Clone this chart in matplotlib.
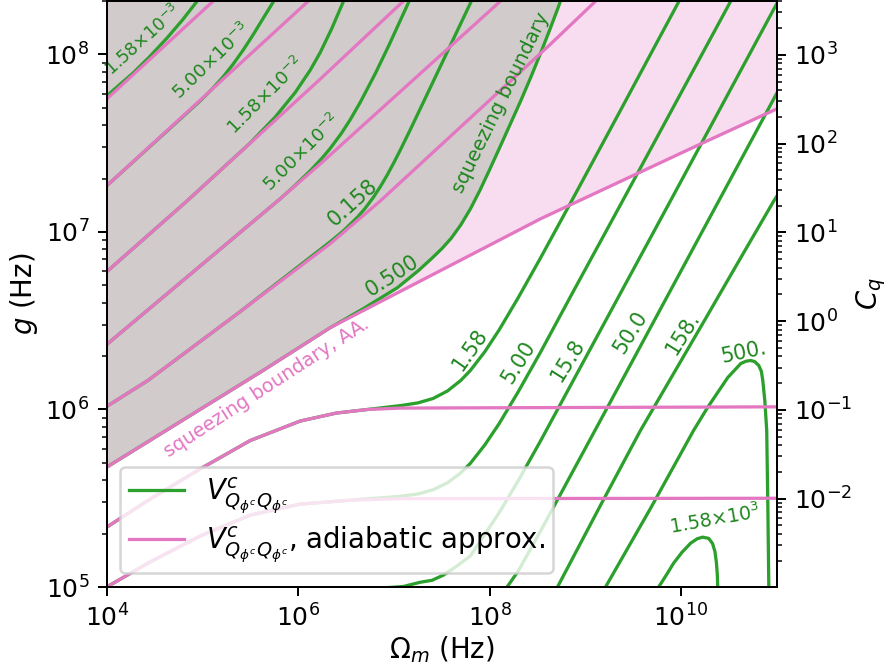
import numpy as np
import matplotlib
matplotlib.use("Agg")
import matplotlib.pyplot as plt
from matplotlib.ticker import FixedLocator, NullLocator, LogFormatterSciNotation

GREEN = "#2ca02c"
PINK = "#e377c2"
LABEL_GREEN = "#1e861e"
PINK_FILL = "#f8ddf0"
GRAY_FILL = "#d1cccb"

# all curves as log10(Omega_m / Hz), log10(g / Hz)

# squeezing boundary, adiabatic approx. (pink, V = 0.5)
aa_bound_x = [4.00, 5.635, 6.336, 7.486, 8.532, 10.206, 11.0]
aa_bound_y = [5.675, 6.220, 6.461, 6.782, 7.074, 7.496, 7.693]

# squeezing boundary (green, V = 0.5)
bound_x = [4.00, 5.635, 6.336, 6.681, 7.037, 7.256, 7.40, 7.50, 7.60, 7.70, 7.80, 7.90,
           8.00, 8.10, 8.323, 8.43, 8.532, 8.63, 8.721, 8.74]
bound_y = [5.675, 6.220, 6.461, 6.568, 6.686, 6.782, 6.853, 6.905, 6.965, 7.04, 7.13, 7.235,
           7.35, 7.468, 7.735, 7.87, 8.005, 8.14, 8.27, 8.30]

# full contours inside the squeezed region
g_a_x = [4.00, 4.14, 4.275, 4.45, 4.631, 4.79, 4.945]
g_a_y = [7.766, 7.832, 7.895, 7.988, 8.093, 8.193, 8.300]
g_b_x = [4.00, 4.976, 5.10, 5.22, 5.321, 5.43, 5.53, 5.64, 5.745]
g_b_y = [7.260, 7.738, 7.804, 7.876, 7.945, 8.028, 8.111, 8.208, 8.300]
g_c_x = [4.00, 4.840, 5.499, 5.76, 5.97, 6.127, 6.231, 6.35, 6.461, 6.475]
g_c_y = [6.776, 7.175, 7.501, 7.647, 7.786, 7.912, 8.011, 8.144, 8.283, 8.300]
g_d_x = [4.00, 5.813, 5.95, 6.127, 6.25, 6.336, 6.45, 6.545, 6.65, 6.807, 6.95, 7.16]
g_d_y = [6.366, 7.187, 7.253, 7.345, 7.416, 7.471, 7.554, 7.633, 7.731, 7.893, 8.053, 8.300]
g_e_x = [4.00, 4.432, 5.394, 6.336, 6.47, 6.618, 6.70, 6.786, 6.86, 6.932, 7.00, 7.068,
         7.17, 7.277, 7.81]
g_e_y = [6.017, 6.164, 6.551, 6.945, 7.005, 7.082, 7.133, 7.195, 7.256, 7.322, 7.39, 7.462,
         7.574, 7.695, 8.300]

# adiabatic contours inside the squeezed region
p_a_x = [4.00, 5.112]
p_a_y = [7.749, 8.300]
p_b_x = [4.00, 6.106]
p_b_y = [7.260, 8.300]
p_c_x = [4.00, 4.840, 6.231, 7.099]
p_c_y = [6.776, 7.175, 7.861, 8.300]
p_d_x = [4.00, 5.813, 6.231, 8.114]
p_d_y = [6.366, 7.187, 7.383, 8.300]
p_e_x = [4.00, 4.432, 5.394, 6.336, 6.859, 8.637, 9.108]
p_e_y = [6.017, 6.164, 6.551, 6.934, 7.175, 8.058, 8.300]

# adiabatic contours 1.58 and 5.00 (flatten out)
p_158_x = [4.00, 4.453, 4.976, 5.499, 6.022, 6.4, 6.723, 7.068, 11.0]
p_158_y = [5.337, 5.495, 5.665, 5.825, 5.935, 5.98, 6.0, 6.008, 6.015]
p_500_x = [4.00, 4.453, 4.976, 5.499, 6.022, 6.545, 7.068, 11.0]
p_500_y = [5.000, 5.141, 5.287, 5.405, 5.467, 5.489, 5.498, 5.500]

# full contours outside the squeezed region
g_158_x = [4.00, 4.453, 4.976, 5.499, 6.022, 6.4, 6.723, 7.068, 7.25, 7.41, 7.56, 7.70,
           7.80, 7.95, 8.10, 8.30, 8.53, 8.87, 9.37, 9.98]
g_158_y = [5.337, 5.495, 5.665, 5.825, 5.935, 5.98, 6.0, 6.022, 6.037, 6.062, 6.104, 6.164,
           6.22, 6.325, 6.448, 6.63, 6.851, 7.187, 7.687, 8.30]
g_500_x = [4.00, 4.453, 4.976, 5.499, 6.022, 6.545, 7.068, 7.25, 7.41, 7.56, 7.70, 7.80,
           7.95, 8.10, 8.30, 8.53, 8.87, 9.39, 10.52]
g_500_y = [5.000, 5.141, 5.287, 5.405, 5.467, 5.489, 5.511, 5.524, 5.548, 5.587, 5.643, 5.697,
           5.80, 5.92, 6.10, 6.32, 6.66, 7.175, 8.30]
g_15p8_x = [6.5, 6.89, 7.1, 7.277, 7.40, 7.518, 7.65, 7.80, 7.95, 8.10, 8.30, 8.532, 9.892, 11.0]
g_15p8_y = [4.99, 4.995, 5.003, 5.027, 5.038, 5.067, 5.115, 5.175, 5.296, 5.418, 5.599, 5.822, 7.177, 8.285]
g_50_x = [8.15, 8.30, 8.53, 9.265, 10.415, 11.0]
g_50_y = [4.975, 5.09, 5.312, 6.045, 7.195, 7.78]
g_158d_x = [8.710, 9.160, 9.578, 10.269, 10.625, 10.970, 11.0]
g_158d_y = [5.000, 5.461, 5.883, 6.523, 6.855, 7.175, 7.20]
g_500d_x = [9.212, 9.683, 10.133, 10.279, 10.489, 10.625, 10.68, 10.729, 10.77, 10.813, 10.84,
            10.855, 10.876, 10.896, 10.907, 10.918]
g_500d_y = [5.000, 5.444, 5.883, 6.012, 6.180, 6.259, 6.272, 6.276, 6.27, 6.248, 6.215,
            6.164, 6.051, 5.883, 5.489, 5.000]
g_1580_x = [9.767, 9.85, 9.924, 10.01, 10.101, 10.17, 10.227, 10.29, 10.33, 10.355, 10.37, 10.38, 10.384]
g_1580_y = [5.000, 5.07, 5.135, 5.195, 5.247, 5.272, 5.281, 5.274, 5.245, 5.20, 5.14, 5.07, 5.000]

# contour labels
lab_text = ["1.58×10$^{-3}$", "5.00×10$^{-3}$", "1.58×10$^{-2}$", "5.00×10$^{-2}$",
            "0.158", "0.500", "1.58", "5.00", "15.8", "50.0", "158.", "500.", "1.58×10$^{3}$"]
lab_x = [4.38, 5.091, 5.667, 6.042, 6.567, 6.983, 7.80, 8.302, 8.815, 9.474, 10.018, 10.656, 10.353]
lab_y = [8.078, 7.962, 7.766, 7.445, 7.164, 6.754, 6.338, 6.265, 6.276, 6.433, 6.428, 6.321, 5.382]
lab_rot = [42, 44, 45, 45, 42, 33, 55, 58, 58, 58, 58, 12, 10]
lab_size = [7.0, 7.4, 7.4, 7.4, 8.3, 8.3, 8.3, 8.3, 8.3, 8.3, 8.3, 8.3, 7.6]

green_curves = [(bound_x, bound_y), (g_a_x, g_a_y), (g_b_x, g_b_y), (g_c_x, g_c_y),
                (g_d_x, g_d_y), (g_e_x, g_e_y), (g_158_x, g_158_y), (g_500_x, g_500_y),
                (g_15p8_x, g_15p8_y), (g_50_x, g_50_y), (g_158d_x, g_158d_y),
                (g_500d_x, g_500d_y), (g_1580_x, g_1580_y)]
pink_curves = [(aa_bound_x, aa_bound_y), (p_a_x, p_a_y), (p_b_x, p_b_y), (p_c_x, p_c_y),
               (p_d_x, p_d_y), (p_e_x, p_e_y), (p_158_x, p_158_y), (p_500_x, p_500_y)]

G_TOP = 2e8
CQ_SCALE = 9.9e12  # C_q = g^2 / CQ_SCALE

fig = plt.figure(figsize=(892 / 180, 667 / 180), dpi=180)
ax = fig.add_axes([0.1196, 0.1199, 0.7511, 0.8786])
ax.set_xscale("log")
ax.set_yscale("log")

ax.fill_between(10 ** np.array(aa_bound_x), 10 ** np.array(aa_bound_y), G_TOP,
                color=PINK_FILL, lw=0, zorder=0)
ax.fill_between(10 ** np.array(bound_x), 10 ** np.array(bound_y), G_TOP,
                color=GRAY_FILL, lw=0, zorder=0.5)

for i, (cx, cy) in enumerate(green_curves):
    ax.plot(10 ** np.array(cx), 10 ** np.array(cy), color=GREEN, lw=1.3, zorder=2,
            label=r"$V^c_{Q_{\phi^c}Q_{\phi^c}}$" if i == 0 else None)
for i, (cx, cy) in enumerate(pink_curves):
    ax.plot(10 ** np.array(cx), 10 ** np.array(cy), color=PINK, lw=1.3, zorder=3,
            label=r"$V^c_{Q_{\phi^c}Q_{\phi^c}}$, adiabatic approx." if i == 0 else None)

for t, x, y, r, s in zip(lab_text, lab_x, lab_y, lab_rot, lab_size):
    ax.text(10 ** x, 10 ** y, t, color=LABEL_GREEN, fontsize=s, rotation=r,
            rotation_mode="anchor", ha="center", va="center", zorder=4)

ax.text(10 ** 8.114, 10 ** 7.726, "squeezing boundary", color=LABEL_GREEN, fontsize=7.8,
        rotation=64, rotation_mode="anchor", ha="center", va="center", zorder=4)
ax.text(10 ** 5.668, 10 ** 6.124, "squeezing boundary, AA.", color=PINK, fontsize=7.7,
        rotation=33, rotation_mode="anchor", ha="center", va="center", zorder=4)

ax.set_xlim(1e4, 1e11)
ax.set_ylim(1e5, G_TOP)
ax.xaxis.set_major_locator(FixedLocator([1e4, 1e6, 1e8, 1e10]))
ax.xaxis.set_major_formatter(LogFormatterSciNotation())
ax.xaxis.set_minor_locator(NullLocator())

ax.set_xlabel(r"$\Omega_m$ (Hz)", fontsize=11, labelpad=1)
ax.set_ylabel(r"$g$ (Hz)", fontsize=11, labelpad=2)
ax.legend(loc="lower left", fontsize=11, labelspacing=0.3, borderpad=0.3)

ax2 = ax.twinx()
ax2.set_yscale("log")
ax2.set_ylim(1e5 ** 2 / CQ_SCALE, G_TOP ** 2 / CQ_SCALE)
ax2.set_ylabel(r"$C_q$", fontsize=11, labelpad=1)

fig.savefig("out.png", dpi=180)
